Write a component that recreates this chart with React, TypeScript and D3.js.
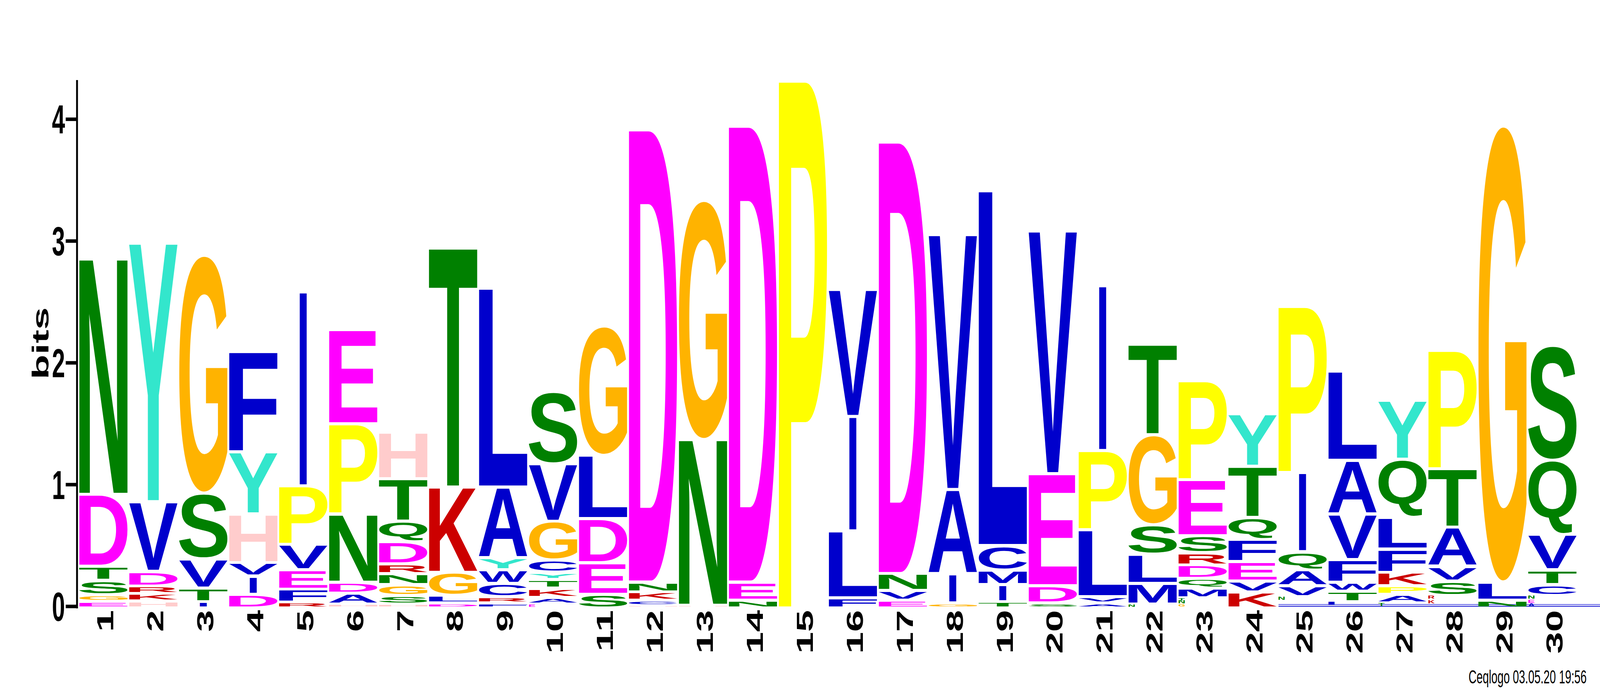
import React, { useMemo } from "react";
import * as d3 from "d3";

// ---------------- data ----------------
const positions: string[] = [
  "1", "2", "3", "4", "5", "6", "7", "8", "9", "10",
  "11", "12", "13", "14", "15", "16", "17", "18", "19", "20",
  "21", "22", "23", "24", "25", "26", "27", "28", "29", "30",
];

const yTicks: number[] = [0, 1, 2, 3, 4];
const maxBits = Math.log2(20);
const yLabel = "bits";
const footer = "Ceqlogo 03.05.20 19:56";

// residue colours (MEME / ceqlogo protein scheme)
const residueColor: Record<string, string> = {
  A: "#0000CC", C: "#0000CC", F: "#0000CC", I: "#0000CC", L: "#0000CC",
  V: "#0000CC", W: "#0000CC", M: "#0000CC",
  N: "#008000", Q: "#008000", S: "#008000", T: "#008000",
  D: "#FF00FF", E: "#FF00FF",
  K: "#CC0000", R: "#CC0000",
  H: "#FFCCCC",
  G: "#FFB300",
  P: "#FFFF00",
  Y: "#33E6CC",
};

// each stack, bottom -> top: [residue, bits]; lowercase = below print size (drawn as a tiny glyph)
const stacks: [string, number][][] = [
  [["E", 0.04], ["G", 0.055], ["S", 0.12], ["T", 0.115], ["D", 0.59], ["N", 1.92]],
  [["H", 0.045], ["K", 0.062], ["R", 0.061], ["D", 0.12], ["V", 0.572], ["Y", 2.11]],
  [["I", 0.04], ["T", 0.11], ["V", 0.24], ["S", 0.54], ["G", 1.94]],
  [["D", 0.1], ["I", 0.15], ["V", 0.11], ["H", 0.4], ["Y", 0.51], ["F", 0.81]],
  [["R", 0.035], ["F", 0.105], ["E", 0.16], ["V", 0.21], ["P", 0.48], ["I", 1.58]],
  [["H", 0.02], ["A", 0.09], ["D", 0.09], ["N", 0.56], ["P", 0.74], ["E", 0.76]],
  [["H", 0.02], ["S", 0.07], ["G", 0.09], ["N", 0.09], ["R", 0.08], ["D", 0.18], ["Q", 0.17], ["T", 0.35], ["H", 0.37]],
  [["D", 0.03], ["L", 0.06], ["G", 0.19], ["K", 0.7], ["T", 1.95]],
  [["F", 0.03], ["R", 0.05], ["C", 0.11], ["W", 0.11], ["Y", 0.1], ["A", 0.58], ["L", 1.62]],
  [["e", 0.02], ["A", 0.055], ["K", 0.075], ["T", 0.07], ["Y", 0.06], ["C", 0.1], ["G", 0.32], ["V", 0.47], ["S", 0.58]],
  [["S", 0.1], ["E", 0.26], ["D", 0.36], ["L", 0.52], ["G", 1.05]],
  [["H", 0.01], ["C", 0.04], ["K", 0.07], ["N", 0.08], ["D", 3.7]],
  [["H", 0.01], ["N", 1.36], ["G", 1.95]],
  [["N", 0.05], ["E", 0.15], ["D", 3.73]],
  [["P", 4.3]],
  [["F", 0.07], ["L", 0.55], ["I", 0.94], ["V", 1.03]],
  [["E", 0.05], ["V", 0.08], ["N", 0.14], ["D", 3.53]],
  [["G", 0.03], ["I", 0.24], ["A", 0.69], ["V", 2.08]],
  [["T", 0.04], ["I", 0.14], ["M", 0.12], ["C", 0.2], ["L", 2.9]],
  [["S", 0.03], ["D", 0.14], ["E", 0.92], ["V", 1.98]],
  [["A", 0.03], ["V", 0.05], ["L", 0.55], ["P", 0.65], ["I", 1.34]],
  [["n", 0.02], ["M", 0.17], ["L", 0.24], ["S", 0.24], ["G", 0.74], ["T", 0.73]],
  [["g", 0.025], ["n", 0.025], ["t", 0.02], ["M", 0.08], ["Q", 0.08], ["D", 0.11], ["R", 0.1], ["S", 0.14], ["E", 0.46], ["P", 0.8]],
  [["K", 0.12], ["V", 0.09], ["E", 0.16], ["F", 0.18], ["Q", 0.18], ["T", 0.42], ["Y", 0.42]],
  [["n", 0.08], ["V", 0.09], ["A", 0.13], ["Q", 0.15], ["I", 0.65], ["P", 1.35]],
  [["i", 0.04], ["T", 0.085], ["W", 0.075], ["F", 0.185], ["V", 0.375], ["A", 0.44], ["L", 0.72]],
  [["t", 0.03], ["A", 0.07], ["P", 0.07], ["K", 0.11], ["F", 0.19], ["L", 0.26], ["Q", 0.48], ["Y", 0.47]],
  [["k", 0.05], ["r", 0.04], ["S", 0.12], ["V", 0.12], ["A", 0.32], ["T", 0.48], ["P", 0.96]],
  [["N", 0.05], ["L", 0.15], ["G", 3.73]],
  [["a", 0.025], ["e", 0.03], ["n", 0.035], ["C", 0.09], ["T", 0.12], ["V", 0.29], ["Q", 0.61], ["S", 0.93]],
];

// ---------------- layout ----------------
const W = 7083;
const H = 1767;
const FONT = "'Liberation Sans', Arial, Helvetica, sans-serif";
const plotLeft = 351;
const step = 221.2;
const gapPx = 8.2;
const baseY = 1553;
const pxPerBit = 311.9;

type Metric = { l: number; r: number; a: number; d: number };

// ink bounds of each glyph (in units of a 1000px font), found by rasterising it
function useGlyphMetrics(): Record<string, Metric> {
  return useMemo(() => {
    const out: Record<string, Metric> = {};
    const letters = Object.keys(residueColor);
    const fs = 500;
    const cw = 800;
    const chh = 760;
    const ox = 120;
    const oy = 580;
    const c = document.createElement("canvas");
    c.width = cw;
    c.height = chh;
    const ctx = c.getContext("2d", { willReadFrequently: true } as any) as CanvasRenderingContext2D | null;
    letters.forEach((ch) => (out[ch] = { l: -60, r: 660, a: 716, d: 10 }));
    if (!ctx) return out;
    const k = 1000 / fs;
    letters.forEach((ch) => {
      ctx.clearRect(0, 0, cw, chh);
      ctx.fillStyle = "#000";
      ctx.font = `bold ${fs}px 'Liberation Sans', Arial, sans-serif`;
      ctx.textBaseline = "alphabetic";
      ctx.textAlign = "left";
      ctx.fillText(ch, ox, oy);
      const data = ctx.getImageData(0, 0, cw, chh).data;
      let minX = cw, maxX = -1, minY = chh, maxY = -1;
      for (let yy = 0; yy < chh; yy++) {
        const row = yy * cw * 4;
        for (let xx = 0; xx < cw; xx++) {
          if (data[row + xx * 4 + 3] > 100) {
            if (xx < minX) minX = xx;
            if (xx > maxX) maxX = xx;
            if (yy < minY) minY = yy;
            if (yy > maxY) maxY = yy;
          }
        }
      }
      if (maxX >= 0) {
        out[ch] = {
          l: (ox - minX) * k,
          r: (maxX + 1 - ox) * k,
          a: (oy - minY) * k,
          d: (maxY + 1 - oy) * k,
        };
      } else {
        const t = ctx.measureText(ch);
        out[ch] = {
          l: t.actualBoundingBoxLeft * k,
          r: t.actualBoundingBoxRight * k,
          a: t.actualBoundingBoxAscent * k,
          d: t.actualBoundingBoxDescent * k,
        };
      }
    });
    return out;
  }, []);
}

export default function App() {
  const metrics = useGlyphMetrics();

  const x = d3
    .scaleBand<string>()
    .domain(positions)
    .range([plotLeft, plotLeft + positions.length * step - gapPx])
    .paddingInner(gapPx / step)
    .paddingOuter(0);
  const y = d3
    .scaleLinear()
    .domain([0, maxBits])
    .range([baseY, baseY - maxBits * pxPerBit]);
  const bw = x.bandwidth();

  const glyph = (
    ch: string,
    bx: number,
    bTop: number,
    w: number,
    h: number,
    key: string
  ) => {
    const m = metrics[ch];
    if (!m || h <= 0) return null;
    const inkW = m.l + m.r;
    const inkH = m.a + m.d;
    const sx = w / inkW;
    const sy = h / inkH;
    return (
      <text
        key={key}
        transform={`translate(${bx},${bTop + h}) scale(${sx},${sy}) translate(${m.l},${-m.d})`}
        fontFamily={FONT}
        fontWeight="bold"
        fontSize={1000}
        fill={residueColor[ch]}
      >
        {ch}
      </text>
    );
  };

  const letters: React.ReactNode[] = [];
  stacks.forEach((stack, ci) => {
    const pos = positions[ci];
    const left = x(pos) as number;
    let cum = 0;
    stack.forEach(([raw, bits], li) => {
      const yBot = y(cum);
      const yTop = y(cum + bits);
      cum += bits;
      const boxH = yBot - yTop;
      const tiny = raw !== raw.toUpperCase();
      const ch = raw.toUpperCase();
      const key = `${ci}-${li}`;
      if (tiny) {
        const gh = Math.min(7, boxH);
        letters.push(glyph(ch, left, yTop + 1, 27, gh, key));
        return;
      }
      let padB = li === 0 ? 0 : 4;
      let padT = li === stack.length - 1 ? 0 : 4;
      const minInk = boxH * 0.5;
      if (boxH - padB - padT < minInk && padB + padT > 0) {
        const k = (boxH - minInk) / (padB + padT);
        padB *= k;
        padT *= k;
      }
      const inkTop = yTop + padT;
      const inkH = boxH - padB - padT;
      if (ch === "I") {
        const iw = bw * 0.146;
        letters.push(glyph(ch, left + (bw - iw) / 2, inkTop, iw, inkH, key));
      } else {
        letters.push(glyph(ch, left, inkTop, bw, inkH, key));
      }
    });
  });

  const axisX = 341;
  const blueStart = x("25") as number;

  return (
    <svg
      viewBox={`0 0 ${W} ${H}`}
      preserveAspectRatio="none"
      style={{
        position: "fixed",
        left: 0,
        top: 0,
        width: "100vw",
        height: "100vh",
        background: "#fff",
        display: "block",
      }}
    >
      <rect x={0} y={0} width={W} height={H} fill="#fff" />
      {/* y axis */}
      <line x1={axisX} x2={axisX} y1={y(maxBits)} y2={y(0) + 5} stroke="#000" strokeWidth={8.3} />
      {yTicks.map((t) => (
        <g key={t}>
          <line x1={291} x2={axisX} y1={y(t)} y2={y(t)} stroke="#000" strokeWidth={9} />
          <text
            x={288}
            y={y(t) + 37}
            textAnchor="end"
            fontFamily={FONT}
            fontWeight="bold"
            fontSize={104}
            fill="#000"
          >
            {t}
          </text>
        </g>
      ))}
      <text
        transform={`translate(214,${(y(0) + y(maxBits)) / 2}) rotate(-90)`}
        textAnchor="middle"
        fontFamily={FONT}
        fontWeight="bold"
        fontSize={104}
        fill="#000"
      >
        {yLabel}
      </text>

      {/* baseline artifact at the right */}
      <line x1={blueStart} x2={W} y1={baseY - 5} y2={baseY - 5} stroke="#5a5ae6" strokeWidth={2} />
      <line x1={blueStart} x2={W} y1={baseY - 0.5} y2={baseY - 0.5} stroke="#0000CC" strokeWidth={2} />

      {/* letters */}
      {letters}

      {/* x labels */}
      {positions.map((p) => (
        <text
          key={p}
          transform={`translate(${(x(p) as number) + bw / 2 + 44},${1562}) rotate(-90)`}
          textAnchor="end"
          fontFamily={FONT}
          fontWeight="bold"
          fontSize={101}
          fill="#000"
        >
          {p}
        </text>
      ))}

      <text x={6501} y={1750} fontFamily={FONT} fontSize={49} fill="#000">
        {footer}
      </text>
    </svg>
  );
}
